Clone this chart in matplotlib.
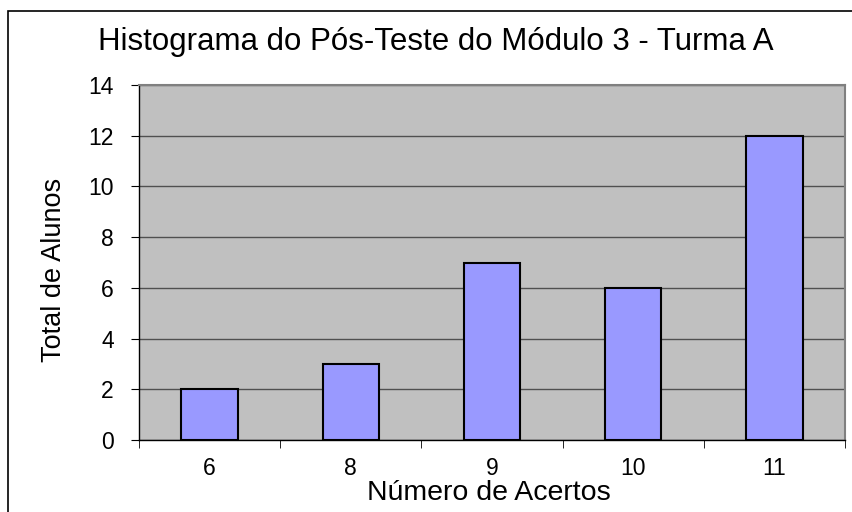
import matplotlib.pyplot as plt
from matplotlib.patches import Rectangle

# dados do histograma
acertos = ['6', '8', '9', '10', '11']
alunos = [2, 3, 7, 6, 12]
yticks = [0, 2, 4, 6, 8, 10, 12, 14]

plt.rcParams['font.family'] = ['Liberation Sans', 'DejaVu Sans']

fig = plt.figure(figsize=(8.53, 5.12), dpi=100)
W, H = 853, 512
# posição da área do gráfico (em pixels)
left, right, top, bottom = 139, 845, 85, 440
ax = fig.add_axes([left / W, 1 - bottom / H, (right - left) / W, (bottom - top) / H])

# moldura do gráfico (cortada à direita e embaixo)
fig.patches.append(Rectangle((8 / W, -0.1), 1.2, 1 - 11 / H + 0.1, transform=fig.transFigure,
                             fill=False, edgecolor='black', linewidth=1.2))

ax.set_facecolor('#C0C0C0')
x = range(len(acertos))
ax.bar(x, alunos, width=0.4, color='#9999FF', edgecolor='black', linewidth=1.5, zorder=3)

ax.set_xlim(-0.5, len(acertos) - 0.5)
ax.set_ylim(0, 14)
ax.set_yticks(yticks)
ax.set_yticklabels([str(v) for v in yticks])
ax.set_xticks(list(x))
ax.set_xticklabels(acertos)
ax.set_xticks([i - 0.5 for i in range(len(acertos) + 1)], minor=True)
ax.tick_params(axis='x', which='major', length=0, pad=12, labelsize=16.5)
ax.tick_params(axis='x', which='minor', length=6, color='black')
ax.tick_params(axis='y', length=6, color='black', pad=12, labelsize=16.5)

ax.grid(axis='y', color='#505050', linewidth=1, zorder=1)
ax.set_axisbelow(True)
for s in ['top', 'right']:
    ax.spines[s].set_color('#808080')
    ax.spines[s].set_linewidth(1.5)
for s in ['left', 'bottom']:
    ax.spines[s].set_color('black')
    ax.spines[s].set_linewidth(1)

fig.text(436 / W, 1 - 42 / H, 'Histograma do Pós-Teste do Módulo 3 - Turma A',
         ha='center', va='center', fontsize=22.5)
fig.text(489 / W, 1 - 493 / H, 'Número de Acertos', ha='center', va='center', fontsize=20.5)
fig.text(54 / W, 1 - 270 / H, 'Total de Alunos', ha='center', va='center',
         rotation=90, fontsize=19.5)

fig.savefig('out.png', dpi=100)
